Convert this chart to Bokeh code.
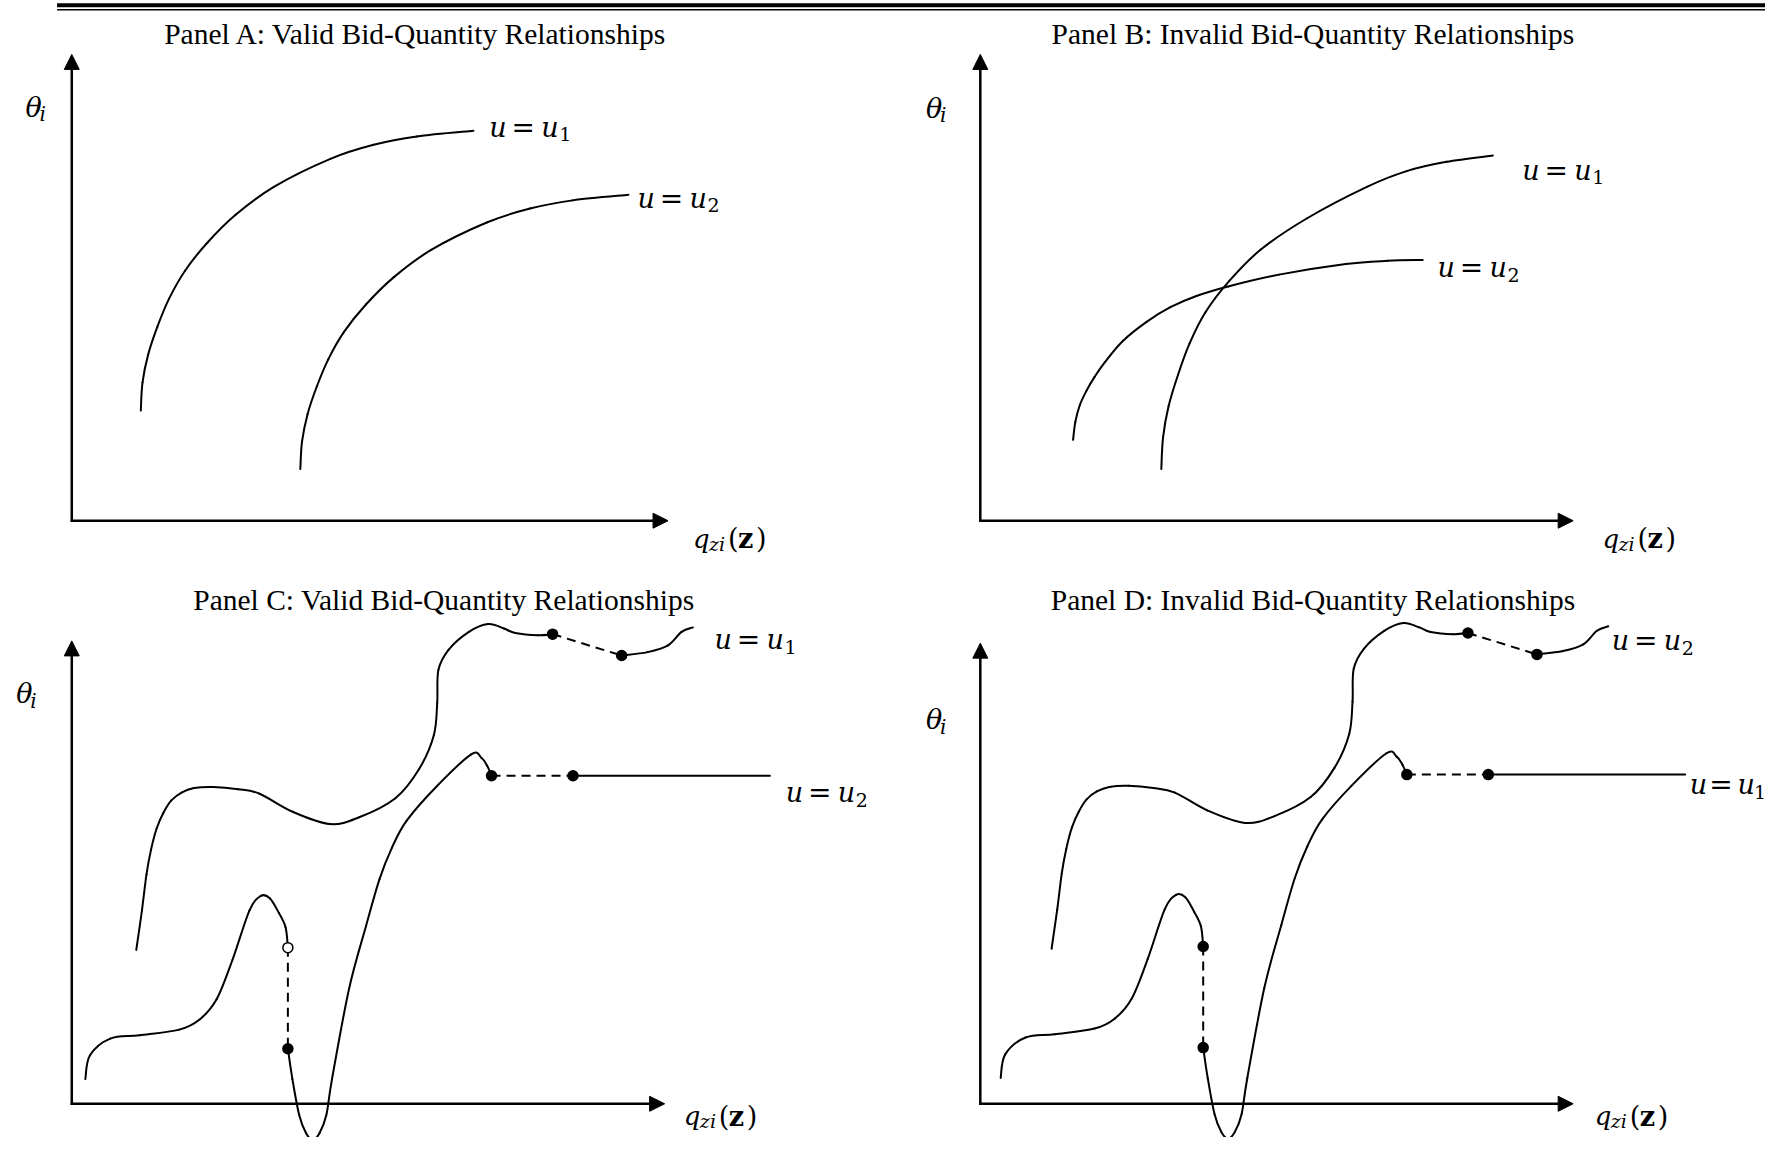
import numpy as np
from bokeh.plotting import figure
from bokeh.models import Range1d, Arrow, NormalHead
from bokeh.core.properties import value
from bokeh.embed import file_html
from bokeh.resources import INLINE

# ---------------- data (local panel units: q to the right, theta upwards) ----------------
titles = ["Panel A: Valid Bid-Quantity Relationships",
          "Panel B: Invalid Bid-Quantity Relationships",
          "Panel C: Valid Bid-Quantity Relationships",
          "Panel D: Invalid Bid-Quantity Relationships"]

# Panel A
a_u1_q = [61, 62.5, 67.5, 75.7, 86, 100.1, 119.8, 144.8, 178.6, 228.6, 266.8, 305, 355]
a_u1_t = [98, 122.9, 147.8, 172.7, 197.6, 222.5, 247.4, 272.3, 297.2, 322.1, 334.6, 342, 347]
a_u2_q = [202, 203.5, 208.4, 216.5, 226.7, 240.6, 260, 284.7, 318, 367.3, 405, 442.7, 492]
a_u2_t = [46, 70.4, 94.8, 119.2, 143.6, 168, 192.4, 216.8, 241.2, 265.6, 277.8, 285.1, 290]
# Panel B
b_u1_q = [160, 161.5, 166.4, 174.7, 184.9, 199, 220.1, 247.9, 288.9, 341.7, 376.8, 412, 453]
b_u1_t = [46, 73.9, 101.8, 129.7, 157.6, 185.5, 213.4, 241.3, 269.2, 297.1, 311.1, 319.4, 325]
b_u2_q = [82, 84, 88, 94, 101, 110, 126, 147, 168, 191, 219, 264, 323, 360, 391]
b_u2_t = [72, 88, 103, 116, 128, 141, 160, 177, 190, 200, 208.5, 219, 228.5, 231.3, 232]
# Panels C / D : upper curve (before and after the jump)
up1_q = [57, 62, 66, 70, 75, 81, 88, 97, 108, 125, 147, 166, 195, 228, 254, 286, 307, 320, 323, 324, 333, 351, 368, 382, 392, 412, 425]
up1_t = [137, 172, 204, 226, 245, 259, 270, 277, 281, 282, 280, 276, 260, 249, 255, 272, 298, 328, 357, 386, 404, 420, 427, 423, 419, 417, 418]
up2_q = [486, 509, 527, 539, 549]
up2_t = [399, 402, 408, 420, 424]
# lower curve (three pieces)
lo1_q = [12, 16, 34, 60, 95, 113, 128, 142, 157, 167, 175, 183, 189, 191]
lo1_t = [22, 43, 58, 61, 66, 75, 93, 128, 172, 185, 183, 170, 157, 139]
lo2_q = [191, 195, 201, 207, 213, 219, 225, 230, 245, 260, 272, 283, 296, 322, 353, 362, 367, 371]
lo2_t = [49, 22, -10, -26, -32, -26, -10, 22, 102, 158, 200, 228, 252, 282, 311, 308, 301, 292]
lo3_q = [443, 617]
lo3_t = [292, 292]

# ---------------- layout (page units) ----------------
origins = {"A": (63, 463), "B": (866, 463), "C": (63, 982), "D": (866, 982)}
axis_len = {"A": (527, 415), "B": (524, 415), "C": (524, 412), "D": (524, 410)}
title_pos = {"A": (367, 29.5), "B": (1160, 29.5), "C": (392, 533.5), "D": (1160, 533.5)}
theta_pos = {"A": (22, 95), "B": (818, 96), "C": (14, 617), "D": (818, 640)}
q_pos = {"A": (612, 479), "B": (1416, 479), "C": (604, 993), "D": (1409, 993)}
u_labels = [("A", "1", 432, 113, 1.0), ("A", "2", 563, 176, 1.0),
            ("B", "1", 1345, 151, 1.0), ("B", "2", 1270, 238, 1.0),
            ("C", "1", 631, 569, 1.0), ("C", "2", 694, 705, 1.0),
            ("D", "2", 1424, 570, 1.0), ("D", "1", 1493, 698, 0.92)]

W, H = 1765, 1137
XR = (0, 1560)
YR = (1012, 0)
BX = W / (XR[1] - XR[0])
BY = H / (YR[0] - YR[1])

p = figure(width=W, height=H, x_range=Range1d(*XR), y_range=Range1d(*YR),
           output_backend="svg", toolbar_location=None, min_border=0,
           x_axis_type=None, y_axis_type=None)
p.outline_line_color = None
p.background_fill_color = "white"
p.border_fill_color = "white"
for g in p.grid:
    g.visible = False

LW = 2.0
MATH = "DejaVu Serif"


def txt(x, y, s, size, font=MATH, style="normal", align="left"):
    p.text(x=[x], y=[y], text=[s], text_font=value(font), text_font_size=value(f"{size}px"),
           text_font_style=value(style), text_align=align, text_baseline="alphabetic",
           text_color="black")


def curve(qs, ts, panel, dq=0, dt=0):
    ox, oy = origins[panel]
    xs = [ox + q + dq for q in qs]
    ys = [oy - t - dt for t in ts]
    n = len(xs)
    X = [xs[0]] + xs + [xs[-1]]
    Y = [ys[0]] + ys + [ys[-1]]
    d = dict(x0=[], y0=[], x1=[], y1=[], cx0=[], cy0=[], cx1=[], cy1=[])
    for i in range(n - 1):
        p0x, p0y = X[i], Y[i]
        p1x, p1y = X[i + 1], Y[i + 1]
        p2x, p2y = X[i + 2], Y[i + 2]
        p3x, p3y = X[i + 3], Y[i + 3]
        d["x0"].append(p1x); d["y0"].append(p1y)
        d["x1"].append(p2x); d["y1"].append(p2y)
        d["cx0"].append(p1x + (p2x - p0x) / 6); d["cy0"].append(p1y + (p2y - p0y) / 6)
        d["cx1"].append(p2x - (p3x - p1x) / 6); d["cy1"].append(p2y - (p3y - p1y) / 6)
    p.bezier(line_color="black", line_width=LW, line_cap="round", **d)


def dashed(qs, ts, panel, dq=0, dt=0):
    ox, oy = origins[panel]
    p.line([ox + q + dq for q in qs], [oy - t - dt for t in ts], line_color="black",
           line_width=LW, line_dash="9 6")


def dots(qs, ts, panel, dq=0, dt=0, hollow=False):
    ox, oy = origins[panel]
    p.scatter([ox + q + dq for q in qs], [oy - t - dt for t in ts], marker="circle", size=10,
              fill_color="white" if hollow else "black", line_color="black", line_width=1.5)


# top double rule
ry1 = 4.7 / BY
ry2 = 9.3 / BY
p.line([50, XR[1]], [ry1, ry1], line_color="black", line_width=4)
p.line([50, XR[1]], [ry2, ry2], line_color="black", line_width=1.4)

# axes with arrow heads
for k, (ox, oy) in origins.items():
    lq, lt = axis_len[k]
    p.add_layout(Arrow(end=NormalHead(size=15, fill_color="black", line_color="black", line_width=1),
                       x_start=ox, y_start=oy + 1, x_end=ox, y_end=oy - lt,
                       line_color="black", line_width=2.5))
    p.add_layout(Arrow(end=NormalHead(size=15, fill_color="black", line_color="black", line_width=1),
                       x_start=ox - 1, y_start=oy, x_end=ox + lq, y_end=oy,
                       line_color="black", line_width=2.5))

# titles
for k, t in zip("ABCD", titles):
    x, y = title_pos[k]
    txt(x, y, t, 29.5, font="Liberation Serif", align="center")

# theta_i and q_zi(z) axis labels (offsets in screen pixels)
for k in "ABCD":
    x, y = theta_pos[k]
    txt(x, y, "θ", 27, style="italic")
    txt(x + 14 / BX, y + 7 / BY, "i", 20, style="italic")
    x, y = q_pos[k]
    txt(x, y, "q", 26, style="italic")
    txt(x + 16 / BX, y + 5 / BY, "zi", 19, style="italic")
    txt(x + 35 / BX, y, "(", 27)
    txt(x + 45 / BX, y, "z", 27, style="bold")
    txt(x + 63 / BX, y, ")", 27)

# curve labels  u = u_k
for k, sub, x, y, s in u_labels:
    txt(x, y, "u", 27, style="italic")
    txt(x + 34 * s / BX, y, "=", 28, align="center")
    txt(x + 52 * s / BX, y, "u", 27, style="italic")
    txt(x + 70 * s / BX, y + 7 / BY, sub, 19)

# Panel A and B curves
curve(a_u1_q, a_u1_t, "A")
curve(a_u2_q, a_u2_t, "A")
curve(b_u1_q, b_u1_t, "B")
curve(b_u2_q, b_u2_t, "B")

# Panels C and D
for k, dq, dt in [("C", 0, 0), ("D", 6, 1)]:
    curve(up1_q, up1_t, k, dq, dt)
    curve(up2_q, up2_t, k, dq, dt)
    curve(lo1_q, lo1_t, k, dq, dt)
    curve(lo2_q, lo2_t, k, dq, dt)
    curve(lo3_q, lo3_t, k, dq, dt)
    dashed([up1_q[-1], up2_q[0]], [up1_t[-1], up2_t[0]], k, dq, dt)
    dashed([lo1_q[-1], lo2_q[0]], [lo1_t[-1], lo2_t[0]], k, dq, dt)
    dashed([lo2_q[-1], lo3_q[0]], [lo2_t[-1], lo3_t[0]], k, dq, dt)
    dots([up1_q[-1], up2_q[0], lo2_q[0], lo2_q[-1], lo3_q[0]],
         [up1_t[-1], up2_t[0], lo2_t[0], lo2_t[-1], lo3_t[0]], k, dq, dt)
    dots([lo1_q[-1]], [lo1_t[-1]], k, dq, dt, hollow=(k == "C"))

open("out.html", "w").write(file_html(p, INLINE))
